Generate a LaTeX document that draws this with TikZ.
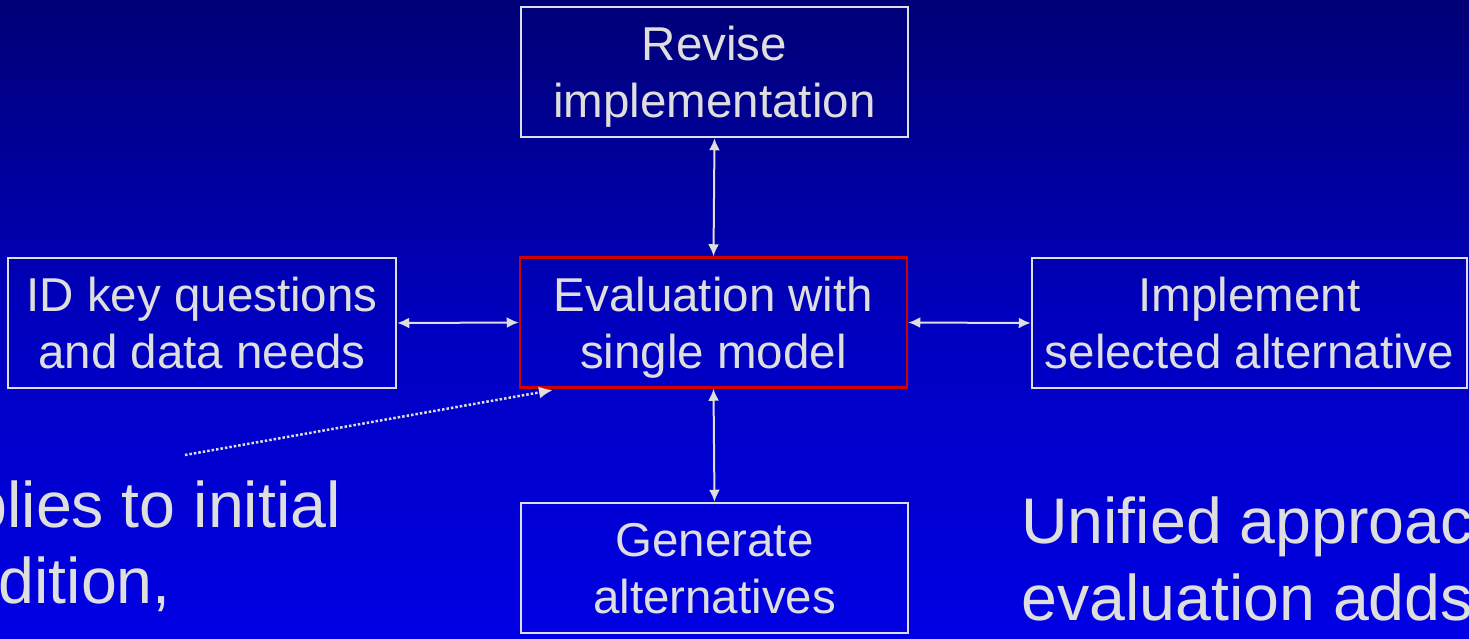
\documentclass[tikz,border=0pt]{standalone}
\usepackage{fontspec}
\setmainfont{Liberation Sans}
\usetikzlibrary{arrows.meta}
\definecolor{txtgray}{RGB}{222,222,222}
\definecolor{boxred}{RGB}{210,0,0}
\definecolor{bgtop}{RGB}{0,0,118}
\definecolor{bgmid}{RGB}{0,0,190}
\definecolor{bgbot}{RGB}{0,0,228}
\tikzset{
  stepbox/.style={draw=txtgray, line width=2.5pt, minimum width=387pt, minimum height=130pt,
    inner sep=0pt, align=center, text=txtgray, text depth=0pt, font=\fontsize{47.5}{57}\selectfont},
  evalbox/.style={stepbox, draw=boxred},
  link/.style={draw=txtgray, line width=2pt, {Latex[length=12pt,width=11pt]}-{Latex[length=12pt,width=11pt]}},
  pointer/.style={draw=txtgray, line width=2.5pt, dotted, -{Latex[length=14pt,width=12pt]}},
  bigtext/.style={text=txtgray, inner sep=0pt, font=\fontsize{64.5}{76}\selectfont}
}
\begin{document}
\begin{tikzpicture}[x=1pt,y=-1pt]
\useasboundingbox (0,0) rectangle (1469,638);
\clip (0,0) rectangle (1469,638);
\shade[top color=bgtop, bottom color=bgbot, middle color=bgmid] (0,0) rectangle (1469,638);

\node[stepbox] (revise) at (714.5,72) {Revise\\implementation};
\node[evalbox] (eval) at (713.5,322.5) {Evaluation with\\single model};
\node[stepbox, minimum width=388pt] (idkey) at (202,323) {ID key questions\\and data needs};
\node[stepbox, minimum width=435pt] (impl) at (1249.5,323) {Implement\\selected alternative};
\node[stepbox] (gen) at (714.5,568) {Generate\\alternatives};

\draw[link] (revise.south) -- (eval.north);
\draw[link] (idkey.east) -- (eval.west);
\draw[link] (eval.east) -- (impl.west);
\draw[link] (eval.south) -- (gen.north);

\node[bigtext, anchor=base east] (l1) at (341,527) {Applies to initial};
\node[bigtext, anchor=base east] (l2) at (171,603) {condition,};

\node[bigtext, anchor=base west] (r1) at (1021,543) {Unified approach};
\node[bigtext, anchor=base west] (r2) at (1021,620) {evaluation adds};

\coordinate (ptstart) at (185,455);
\coordinate (ptend) at (553,390);
\draw[pointer] (ptstart) -- (ptend);
\end{tikzpicture}
\end{document}
